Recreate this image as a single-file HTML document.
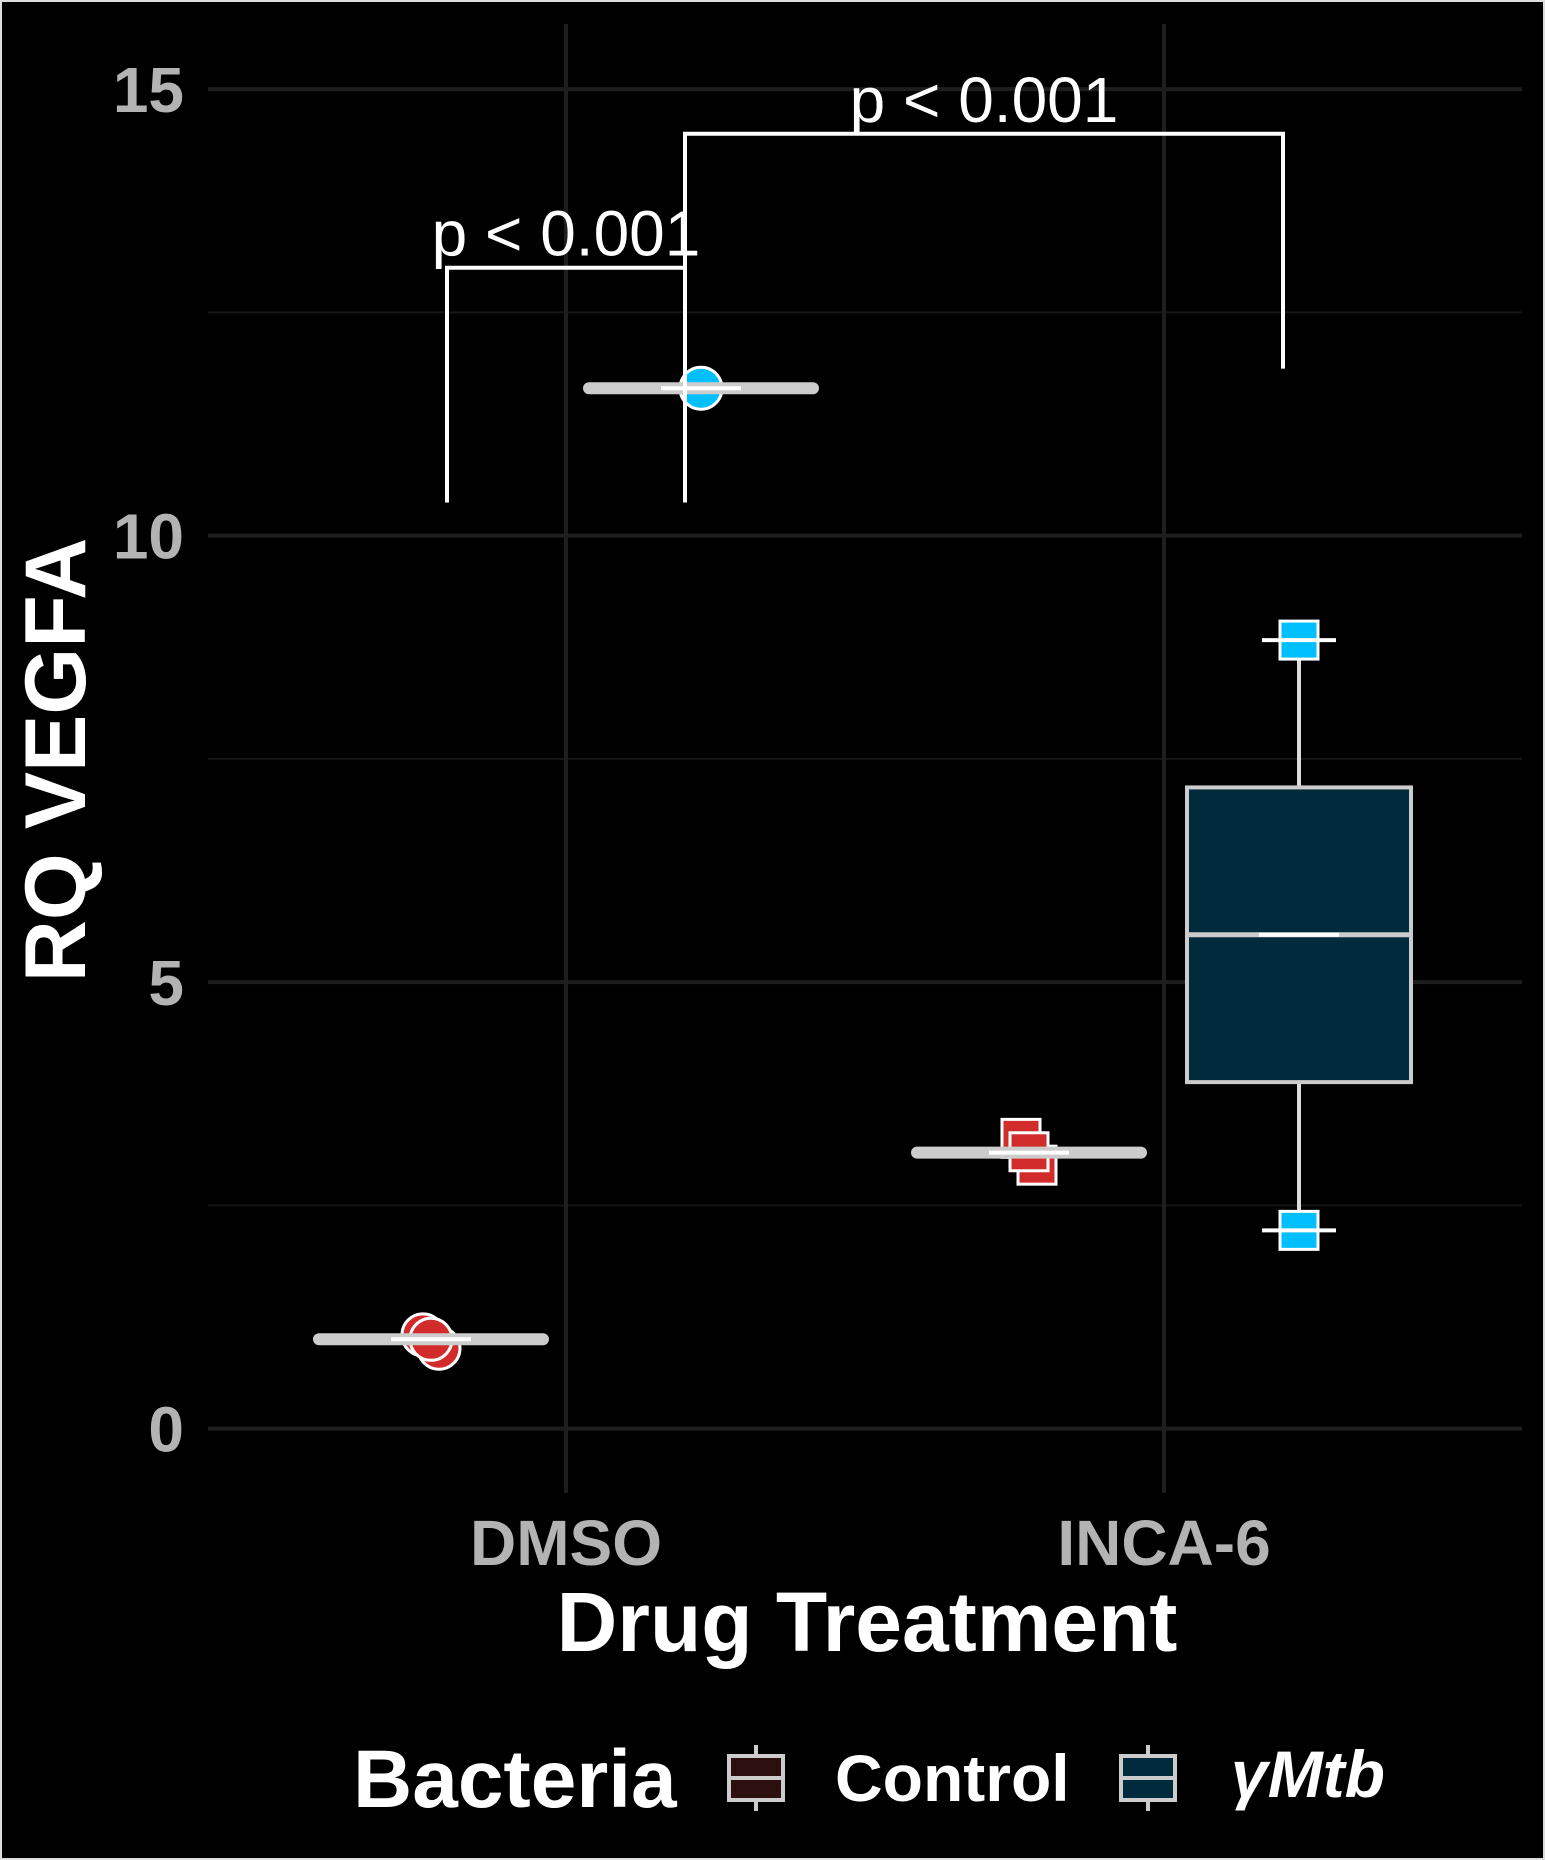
<!DOCTYPE html>
<html><head><meta charset="utf-8"><style>
html,body{margin:0;padding:0;background:#000;}
svg{display:block;font-family:"Liberation Sans",sans-serif;}
</style></head><body>
<svg id="chart" width="1545" height="1860" viewBox="0 0 1545 1860">
<rect x="1" y="1" width="1543" height="1858" fill="#000" stroke="#ddd" stroke-width="2"/>
<g id="grid"></g>
<g id="marks"></g>
<text x="56" y="760" transform="rotate(-90 56 760)" text-anchor="middle" dominant-baseline="central" font-size="86" font-weight="bold" fill="#fff">RQ VEGFA</text>
<text x="867" y="1651" text-anchor="middle" font-size="84" font-weight="bold" fill="#fff">Drug Treatment</text>
<g>
<text x="353" y="1807" font-size="82" font-weight="bold" fill="#fff">Bacteria</text>
<g>
<line x1="756" y1="1745" x2="756" y2="1811" stroke="#ccc" stroke-width="4"/>
<rect x="729" y="1756" width="54" height="44" fill="#2d0f0f" stroke="#ccc" stroke-width="4"/>
<line x1="729" y1="1778" x2="783" y2="1778" stroke="#ccc" stroke-width="4"/>
</g>
<text x="835" y="1801" font-size="66" font-weight="bold" fill="#fff">Control</text>
<g>
<line x1="1148" y1="1745" x2="1148" y2="1811" stroke="#ccc" stroke-width="4"/>
<rect x="1121" y="1756" width="54" height="44" fill="#002b3d" stroke="#ccc" stroke-width="4"/>
<line x1="1121" y1="1778" x2="1175" y2="1778" stroke="#ccc" stroke-width="4"/>
</g>
<text x="1231" y="1797" font-size="66" font-weight="bold" font-style="italic" fill="#fff">γMtb</text>
</g>
</svg>
<script>
const categories = ["DMSO", "INCA-6"];
const groups = ["Control", "γMtb"];
const yTicks = [0, 5, 10, 15];
const yMinor = [2.5, 7.5, 12.5];
// box stats per [category][group]: min, q1, median, q3, max
const boxMin = [[0.95, 11.65], [3.0, 2.22]];
const boxQ1 = [[0.98, 11.65], [3.05, 3.88]];
const boxMed = [[1.0, 11.65], [3.09, 5.53]];
const boxQ3 = [[1.02, 11.65], [3.13, 7.18]];
const boxMax = [[1.05, 11.65], [3.2, 8.83]];
const pointsDMSOControl = [1.05, 0.9, 1.0];
const pointsDMSOMtb = [11.65];
const pointsINCAControl = [3.25, 2.95, 3.1];
const pointsINCAMtb = [8.83, 2.22];
const bracketTops = [13.0, 14.5];
const bracketLeftEnds = [10.37, 10.37];
const bracketRightEnds = [10.37, 11.87];
const bracketLabels = ["p < 0.001", "p < 0.001"];

const NS = "http://www.w3.org/2000/svg";
const y = v => 1428.6 - 89.3 * v;
const xCat = i => 566 + i * 598;
const dodge = 135;
const xG = (i, g) => xCat(i) + (g === 0 ? -dodge : dodge);
function mk(tag, attrs, parent) {
  const e = document.createElementNS(NS, tag);
  for (const k in attrs) e.setAttribute(k, attrs[k]);
  parent.appendChild(e);
  return e;
}
const grid = document.getElementById('grid');
const marks = document.getElementById('marks');
yMinor.forEach(v => {
  const l = mk('line', {x1: 208, x2: 1522, y1: y(v), y2: y(v), stroke: '#161616', 'stroke-width': 2}, grid);
  
  
});
yTicks.forEach(v => {
  const l = mk('line', {x1: 208, x2: 1522, y1: y(v), y2: y(v), stroke: '#1e1e1e', 'stroke-width': 4}, grid);
  
  
  const t = mk('text', {x: 184, y: y(v) + 23, 'text-anchor': 'end', 'font-size': 64, 'font-weight': 'bold', fill: '#b3b3b3'}, grid);
  t.textContent = v;
  
  
});
categories.forEach((c, i) => {
  const l = mk('line', {x1: xCat(i), x2: xCat(i), y1: 24, y2: 1493, stroke: '#1e1e1e', 'stroke-width': 4}, grid);
  
  
  const t = mk('text', {x: xCat(i), y: 1565, 'text-anchor': 'middle', 'font-size': 64, 'font-weight': 'bold', fill: '#b3b3b3'}, grid);
  t.textContent = c;
  
  
});
const fills = ['#2d0f0f', '#002b3d'];
const bw = 224;
for (let i = 0; i < 2; i++) for (let g = 0; g < 2; g++) {
  const cx = xG(i, g);
  const bx = mk('g', {}, marks);
  
  
  mk('line', {x1: cx, x2: cx, y1: y(boxMax[i][g]), y2: y(boxMin[i][g]), stroke: '#ddd', 'stroke-width': 4}, bx);
  const h = Math.max(2, y(boxQ1[i][g]) - y(boxQ3[i][g]));
  mk('rect', {x: cx - bw / 2, y: y(boxQ3[i][g]), width: bw, height: h, fill: fills[g], stroke: '#ccc', 'stroke-width': 4}, bx);
}
function circ(cx, v, fill, name) {
  const c = mk('circle', {cx: cx, cy: y(v), r: 21, fill: fill, stroke: '#fff', 'stroke-width': 3}, marks);
  
  
}
function sq(cx, v, fill, name) {
  const r = mk('rect', {x: cx - 19, y: y(v) - 19, width: 38, height: 38, fill: fill, stroke: '#fff', 'stroke-width': 3}, marks);
  
  
}
const jit = [-8, 8, 0];
pointsDMSOControl.forEach((v, k) => circ(xG(0, 0) + jit[k], v, '#d22b2b', 'point-dmso-control'));
pointsDMSOMtb.forEach(v => circ(xG(0, 1), v, '#00bfff', 'point-dmso-ymtb'));
pointsINCAControl.forEach((v, k) => sq(xG(1, 0) + jit[k], v, '#d22b2b', 'point-inca-control'));
pointsINCAMtb.forEach(v => sq(xG(1, 1), v, '#00bfff', 'point-inca-ymtb'));
for (let i = 0; i < 2; i++) for (let g = 0; g < 2; g++) {
  const cx = xG(i, g), m = boxMed[i][g];
  const thin = (y(boxQ1[i][g]) - y(boxQ3[i][g])) < 20;
  const ln = mk('line', {x1: cx - bw / 2, x2: cx + bw / 2, y1: y(m), y2: y(m), stroke: '#ccc', 'stroke-width': thin ? 12 : 5, 'stroke-linecap': thin ? 'round' : 'butt'}, marks);
  
  
  const e = mk('line', {x1: cx - 40, x2: cx + 40, y1: y(m), y2: y(m), stroke: '#fff', 'stroke-width': 4}, marks);
  
  
}
[boxMin[1][1], boxMax[1][1]].forEach(v => {
  const c = mk('line', {x1: xG(1, 1) - 37, x2: xG(1, 1) + 37, y1: y(v), y2: y(v), stroke: '#fff', 'stroke-width': 4}, marks);
  
  
});
const bL = [xG(0, 0) + 16, xG(0, 1) - 16];
const bR = [xG(0, 1) - 16, xG(1, 1) - 16];
bracketTops.forEach((t, k) => {
  const p = mk('path', {d: `M${bL[k]},${y(bracketLeftEnds[k])} V${y(t)} H${bR[k]} V${y(bracketRightEnds[k])}`, fill: 'none', stroke: '#fff', 'stroke-width': 4}, marks);
  
  
  const tx = mk('text', {x: (bL[k] + bR[k]) / 2, y: y(t) - 12, 'text-anchor': 'middle', 'font-size': 64, fill: '#fff'}, marks);
  tx.textContent = bracketLabels[k];
  
  
});
</script>
</body></html>
